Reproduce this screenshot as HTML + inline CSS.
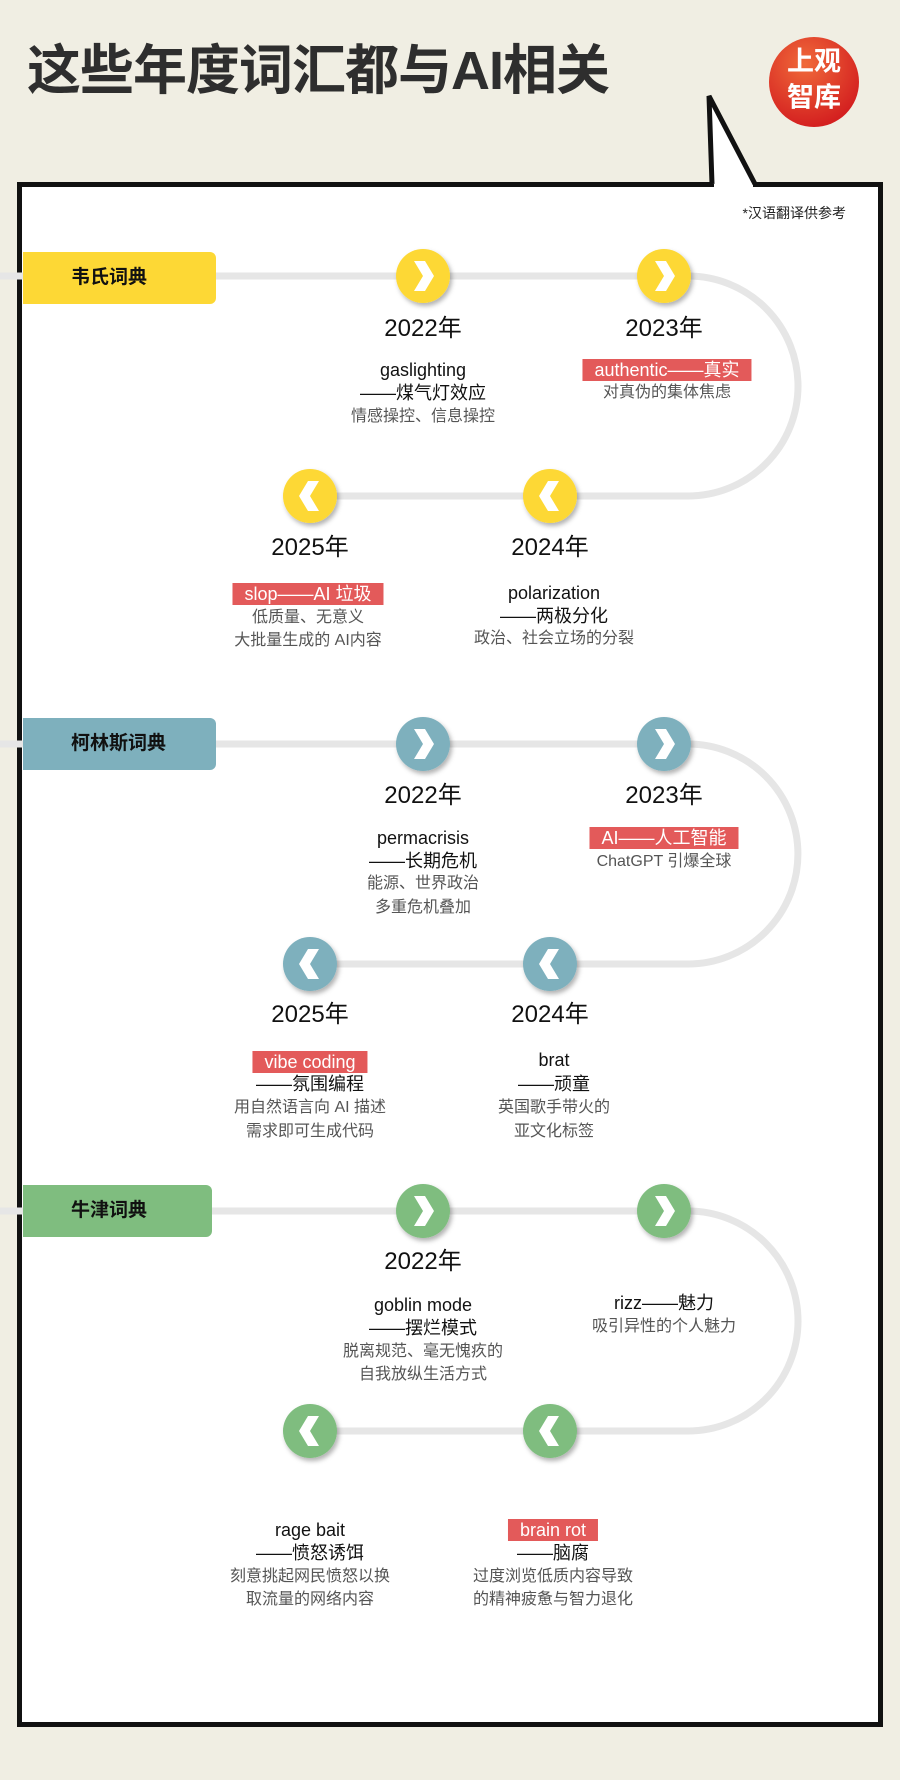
<!DOCTYPE html>
<html><head><meta charset="utf-8"><style>
html,body{margin:0;padding:0}
body{width:900px;height:1780px;position:relative;overflow:hidden;background:#f0eee3;font-family:"Liberation Sans","Noto Sans CJK SC",sans-serif}
.t{position:absolute;transform:translate(-50%,-50%);white-space:nowrap;text-align:center;line-height:1}
.y{font-size:24px;color:#111}
.w{font-size:18px;color:#111}
.d{font-size:16px;color:#555}
.r{background:#e35a5a;color:#fff;font-size:18px;padding:2px 12px}
.lab{position:absolute;left:23px;height:52px;border-radius:0 6px 6px 0;font-size:19px;font-weight:bold;color:#111;line-height:52px;box-sizing:border-box;padding-left:48px}
</style></head><body>
<svg width="900" height="1780" style="position:absolute;left:0;top:0">
<defs>
<filter id="sh" x="-50%" y="-50%" width="200%" height="200%"><feDropShadow dx="2" dy="3" stdDeviation="2.5" flood-color="#000" flood-opacity="0.3"/></filter>
<radialGradient id="lg" cx="40%" cy="30%" r="70%"><stop offset="0" stop-color="#f06a3a"/><stop offset="1" stop-color="#d42020"/></radialGradient>
</defs>
<rect x="19.5" y="184.5" width="861" height="1540" fill="#fff" stroke="#111" stroke-width="5"/>
<polygon points="709,96 712,184 755,184" fill="#fff"/>
<rect x="714" y="182" width="39" height="6" fill="#fff"/>
<polyline points="712,184 709,96 755,184" fill="none" stroke="#111" stroke-width="5" stroke-linejoin="miter"/>
<circle cx="814" cy="82" r="45" fill="url(#lg)"/>
<g fill="none" stroke="#e6e6e6" stroke-width="7">
<path d="M0 276 H688 A110 110 0 0 1 688 496 H310"/>
<path d="M0 744 H688 A110 110 0 0 1 688 964 H310"/>
<path d="M0 1211 H688 A110 110 0 0 1 688 1431 H310"/>
</g>
<g filter="url(#sh)">
<circle cx="423" cy="276" r="27" fill="#fdd835"/><circle cx="664" cy="276" r="27" fill="#fdd835"/>
<circle cx="310" cy="496" r="27" fill="#fdd835"/><circle cx="550" cy="496" r="27" fill="#fdd835"/>
<circle cx="423" cy="744" r="27" fill="#7eb0bd"/><circle cx="664" cy="744" r="27" fill="#7eb0bd"/>
<circle cx="310" cy="964" r="27" fill="#7eb0bd"/><circle cx="550" cy="964" r="27" fill="#7eb0bd"/>
<circle cx="423" cy="1211" r="27" fill="#7fbd7f"/><circle cx="664" cy="1211" r="27" fill="#7fbd7f"/>
<circle cx="310" cy="1431" r="27" fill="#7fbd7f"/><circle cx="550" cy="1431" r="27" fill="#7fbd7f"/>
</g>
<g fill="#fff">
<polygon transform="translate(423,276)" points="-9,-15 2,-15 11,0 2,15 -9,15 0,0"/>
<polygon transform="translate(664,276)" points="-9,-15 2,-15 11,0 2,15 -9,15 0,0"/>
<polygon transform="translate(310,496)" points="9,-15 -2,-15 -11,0 -2,15 9,15 0,0"/>
<polygon transform="translate(550,496)" points="9,-15 -2,-15 -11,0 -2,15 9,15 0,0"/>
<polygon transform="translate(423,744)" points="-9,-15 2,-15 11,0 2,15 -9,15 0,0"/>
<polygon transform="translate(664,744)" points="-9,-15 2,-15 11,0 2,15 -9,15 0,0"/>
<polygon transform="translate(310,964)" points="9,-15 -2,-15 -11,0 -2,15 9,15 0,0"/>
<polygon transform="translate(550,964)" points="9,-15 -2,-15 -11,0 -2,15 9,15 0,0"/>
<polygon transform="translate(423,1211)" points="-9,-15 2,-15 11,0 2,15 -9,15 0,0"/>
<polygon transform="translate(664,1211)" points="-9,-15 2,-15 11,0 2,15 -9,15 0,0"/>
<polygon transform="translate(310,1431)" points="9,-15 -2,-15 -11,0 -2,15 9,15 0,0"/>
<polygon transform="translate(550,1431)" points="9,-15 -2,-15 -11,0 -2,15 9,15 0,0"/>
</g>
</svg>

<div style="position:absolute;left:27px;top:44px;font-size:54px;font-weight:bold;color:#2e2e2e;line-height:1;letter-spacing:-1px">这些年度词汇都与AI相关</div>
<div class="t" style="left:814px;top:62px;font-size:27px;font-weight:bold;color:#fff">上观</div>
<div class="t" style="left:814px;top:98px;font-size:27px;font-weight:bold;color:#fff">智库</div>
<div style="position:absolute;right:54px;top:203px;font-size:14px;color:#222">*汉语翻译供参考</div>

<div class="lab" style="top:252px;width:193px;background:#fdd835">韦氏词典</div>
<div class="lab" style="top:718px;width:193px;background:#7eb0bd">柯林斯词典</div>
<div class="lab" style="top:1185px;width:189px;background:#7fbd7f">牛津词典</div>

<div class="t y" style="left:423px;top:329px">2022年</div>
<div class="t y" style="left:664px;top:329px">2023年</div>
<div class="t w" style="left:423px;top:370px">gaslighting</div>
<div class="t w" style="left:423px;top:393px">——煤气灯效应</div>
<div class="t d" style="left:423px;top:417px">情感操控、信息操控</div>
<div class="t r" style="left:667px;top:370px">authentic——真实</div>
<div class="t d" style="left:667px;top:393px">对真伪的集体焦虑</div>
<div class="t y" style="left:310px;top:548px">2025年</div>
<div class="t y" style="left:550px;top:548px">2024年</div>
<div class="t r" style="left:308px;top:594px">slop——AI 垃圾</div>
<div class="t d" style="left:308px;top:618px">低质量、无意义</div>
<div class="t d" style="left:308px;top:641px">大批量生成的 AI内容</div>
<div class="t w" style="left:554px;top:593px">polarization</div>
<div class="t w" style="left:554px;top:616px">——两极分化</div>
<div class="t d" style="left:554px;top:639px">政治、社会立场的分裂</div>

<div class="t y" style="left:423px;top:796px">2022年</div>
<div class="t y" style="left:664px;top:796px">2023年</div>
<div class="t w" style="left:423px;top:838px">permacrisis</div>
<div class="t w" style="left:423px;top:861px">——长期危机</div>
<div class="t d" style="left:423px;top:884px">能源、世界政治</div>
<div class="t d" style="left:423px;top:908px">多重危机叠加</div>
<div class="t r" style="left:664px;top:838px">AI——人工智能</div>
<div class="t d" style="left:664px;top:862px">ChatGPT 引爆全球</div>
<div class="t y" style="left:310px;top:1015px">2025年</div>
<div class="t y" style="left:550px;top:1015px">2024年</div>
<div class="t r" style="left:310px;top:1062px">vibe coding</div>
<div class="t w" style="left:310px;top:1084px">——氛围编程</div>
<div class="t d" style="left:310px;top:1108px">用自然语言向 AI 描述</div>
<div class="t d" style="left:310px;top:1132px">需求即可生成代码</div>
<div class="t w" style="left:554px;top:1060px">brat</div>
<div class="t w" style="left:554px;top:1084px">——顽童</div>
<div class="t d" style="left:554px;top:1108px">英国歌手带火的</div>
<div class="t d" style="left:554px;top:1132px">亚文化标签</div>

<div class="t y" style="left:423px;top:1262px">2022年</div>
<div class="t w" style="left:423px;top:1305px">goblin mode</div>
<div class="t w" style="left:423px;top:1328px">——摆烂模式</div>
<div class="t d" style="left:423px;top:1352px">脱离规范、毫无愧疚的</div>
<div class="t d" style="left:423px;top:1375px">自我放纵生活方式</div>
<div class="t w" style="left:664px;top:1303px">rizz——魅力</div>
<div class="t d" style="left:664px;top:1327px">吸引异性的个人魅力</div>
<div class="t w" style="left:310px;top:1530px">rage bait</div>
<div class="t w" style="left:310px;top:1553px">——愤怒诱饵</div>
<div class="t d" style="left:310px;top:1577px">刻意挑起网民愤怒以换</div>
<div class="t d" style="left:310px;top:1600px">取流量的网络内容</div>
<div class="t r" style="left:553px;top:1530px">brain rot</div>
<div class="t w" style="left:553px;top:1553px">——脑腐</div>
<div class="t d" style="left:553px;top:1577px">过度浏览低质内容导致</div>
<div class="t d" style="left:553px;top:1600px">的精神疲惫与智力退化</div>
</body></html>
